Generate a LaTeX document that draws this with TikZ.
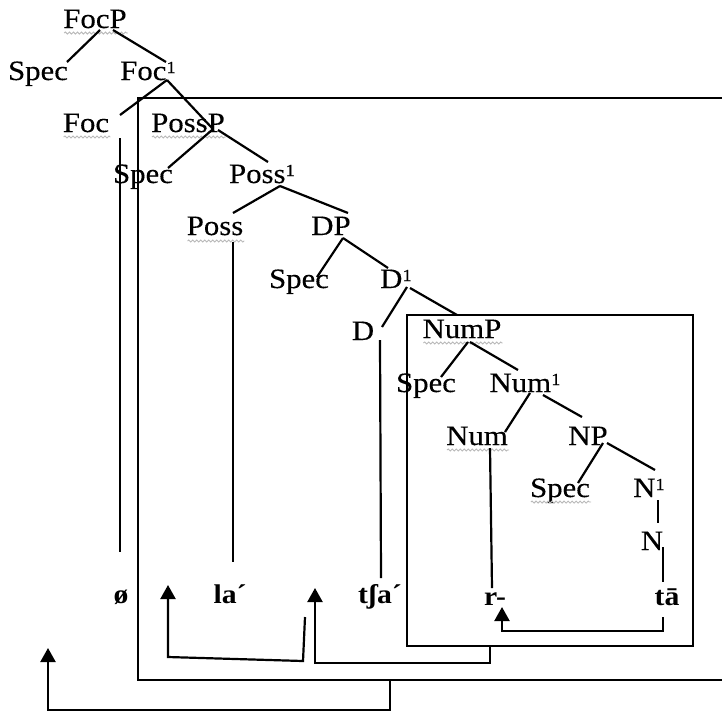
\documentclass[tikz,border=0pt]{standalone}
\usepackage{fontspec}
\setmainfont{Liberation Serif}[FakeStretch=1.1, UprightFeatures={FakeBold=0.3}]
\usetikzlibrary{positioning, arrows.meta, calc, decorations.pathmorphing}
\newcommand{\barone}{\raisebox{7pt}{\fontsize{17}{17}\selectfont 1}}

\begin{document}
\begin{tikzpicture}[
  x=1pt, y=-1pt,
  cat/.style={anchor=base, inner sep=1pt, font=\fontsize{28}{30}\selectfont},
  word/.style={anchor=base, inner sep=1pt, font=\fontsize{27}{30}\selectfont\bfseries},
  branch/.style={line width=2.2pt},
  move/.style={line width=2.2pt, -{Triangle[width=15pt, length=14pt]}},
  spell/.style={gray!55, line width=0.9pt, decorate,
    decoration={snake, segment length=4pt, amplitude=1pt}}
]
  \useasboundingbox (0,0) rectangle (722,713);

  % tree
  \node[cat] (focp) at (95,28) {FocP};
  \node[cat] (spec1) at (38,80) {Spec};
  \node[cat] (focbar) at (148,80) {Foc\barone};
  \node[cat] (foc) at (86,132) {Foc};
  \node[cat] (possp) at (188,132) {PossP};
  \node[cat] (spec2) at (143,183) {Spec};
  \node[cat] (possbar) at (262,183) {Poss\barone};
  \node[cat] (poss) at (215,235) {Poss};
  \node[cat] (dp) at (331,235) {DP};
  \node[cat] (spec3) at (299,288) {Spec};
  \node[cat] (dbar) at (396,288) {D\barone};
  \node[cat] (d) at (363,340) {D};
  \node[cat] (nump) at (462,338) {NumP};
  \node[cat] (spec4) at (426,392) {Spec};
  \node[cat] (numbar) at (525,392) {Num\barone};
  \node[cat] (num) at (477,445) {Num};
  \node[cat] (np) at (588,445) {NP};
  \node[cat] (spec5) at (560,497) {Spec};
  \node[cat] (nbar) at (649,497) {N\barone};
  \node[cat] (n) at (652,550) {N};

  % words
  \node[word] (w0) at (121,603) {ø};
  \node[word] (wla) at (230,603) {la´};
  \node[word] (wtsa) at (380,603) {tʃa´};
  \node[word] (wr) at (495,605) {r-};
  \node[word] (wta) at (667,605) {tā};

  % spell check marks
  \draw[spell] ($(focp.base west)+(2,5)$) -- ($(focp.base east)+(0,5)$);
  \draw[spell] ($(foc.base west)+(2,5)$) -- ($(foc.base east)+(0,5)$);
  \draw[spell] ($(possp.base west)+(2,5)$) -- ($(possp.base east)+(0,5)$);
  \draw[spell] ($(poss.base west)+(2,6)$) -- ($(poss.base east)+(0,6)$);
  \draw[spell] ($(nump.base west)+(2,5)$) -- ($(nump.base east)+(0,5)$);
  \draw[spell] ($(num.base west)+(2,5)$) -- ($(num.base east)+(0,5)$);
  \draw[spell] ($(spec5.base west)+(2,5)$) -- ($(spec5.base east)+(0,5)$);

  \draw[branch] ($(focp.base)+(5,2)$) -- ($(spec1.base)+(29,-18)$);
  \draw[branch] ($(focp.base)+(18,2)$) -- ($(focbar.base)+(18,-18)$);
  \draw[branch] ($(focbar.base)+(19,0)$) -- ($(foc.base)+(34,-17)$);
  \draw[branch] ($(focbar.base)+(19,0)$) -- ($(possp.base)+(24,-4)$);
  \draw[branch] ($(possp.base)+(24,-2)$) -- ($(spec2.base)+(25,-15)$);
  \draw[branch] ($(possp.base)+(30,-2)$) -- ($(possbar.base)+(6,-21)$);
  \draw[branch] ($(possbar.base)+(18,3)$) -- ($(poss.base)+(18,-22)$);
  \draw[branch] ($(possbar.base)+(18,3)$) -- ($(dp.base)+(17,-22)$);
  \draw[branch] ($(dp.base)+(12,3)$) -- ($(spec3.base)+(18,-11)$);
  \draw[branch] ($(dp.base)+(12,3)$) -- ($(dbar.base)+(-8,-20)$);
  \draw[branch] ($(dbar.base)+(11,-1)$) -- ($(d.base)+(19,-13)$);
  \draw[branch] ($(dbar.base)+(14,0)$) -- ($(nump.base)+(-5,-23)$);
  \draw[branch] ($(nump.base)+(6,4)$) -- ($(spec4.base)+(15,-15)$);
  \draw[branch] ($(nump.base)+(8,4)$) -- ($(numbar.base)+(-7,-22)$);
  \draw[branch] ($(numbar.base)+(5,1)$) -- ($(num.base)+(28,-13)$);
  \draw[branch] ($(numbar.base)+(18,3)$) -- ($(np.base)+(-6,-28)$);
  \draw[branch] ($(np.base)+(15,-2)$) -- ($(spec5.base)+(18,-14)$);
  \draw[branch] ($(np.base)+(19,-2)$) -- ($(nbar.base)+(6,-27)$);
  \draw[branch] ($(nbar.base)+(9,3)$) -- ($(n.base)+(6,-27)$);
  \draw[branch] ($(n.base)+(11,-3)$) -- ($(wta.base)+(-4,-23)$);

  % heads down to the words
  \draw[branch] ($(foc.base)+(34,6)$) -- ($(w0.base)+(-1,-51)$);
  \draw[branch] ($(poss.base)+(18,7)$) -- ($(wla.base)+(3,-41)$);
  \draw[branch] ($(d.base)+(17,0)$) -- ($(wtsa.base)+(1,-25)$);
  \draw[branch] ($(num.base)+(13,3)$) -- ($(wr.base)+(-3,-17)$);

  % boxes
  \coordinate (bigTL) at (138,98);
  \coordinate (bigBR) at (726,680);
  \coordinate (inTL) at (407,315);
  \coordinate (inBR) at (693,646);
  \draw[branch] (bigTL) rectangle (bigBR);
  \draw[branch] (inTL) rectangle (inBR);

  % movement
  \coordinate (numexit) at (490,646);
  \coordinate (dpexit) at (390,680);
  \coordinate (gap0) at (168,585);
  \coordinate (gap1) at (315,588);
  \coordinate (gapS) at (48,648);

  \draw[move] ($(wta.base)+(-4,12)$) |- ($(wr.base)+(7,26)$) -- ($(wr.base)+(7,2)$);
  \draw[move] (numexit) -- ++(0,17) -| (gap1);
  \draw[move] ($(gap1)+(-10,29)$) -- ($(gap1)+(-12,73)$) -- ($(gap0)+(0,72)$) -- (gap0);
  \draw[move] (dpexit) -- ++(0,30) -| (gapS);
\end{tikzpicture}
\end{document}
